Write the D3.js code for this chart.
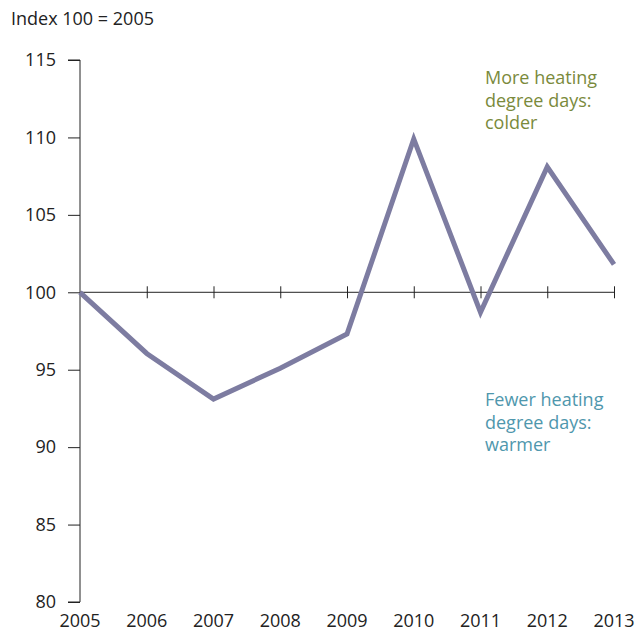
<!DOCTYPE html>
<html>
<head>
<meta charset="utf-8">
<script src="https://cdn.jsdelivr.net/npm/d3@7"></script>
<style>
  body { margin: 0; background: #fff; }
  text { font-family: "Open Sans", "Noto Sans", sans-serif; }
</style>
</head>
<body>
<div id="chart"></div>
<script>
const years = [2005, 2006, 2007, 2008, 2009, 2010, 2011, 2012, 2013];
const index = [100, 96.05, 93.1, 95.1, 97.3, 109.9, 98.7, 108.1, 101.8];
const yTicks = [80, 85, 90, 95, 100, 105, 110, 115];
const noteUp = ["More heating", "degree days:", "colder"];
const noteDown = ["Fewer heating", "degree days:", "warmer"];

const width = 637, height = 631;

const svg = d3.select("#chart").append("svg")
    .attr("width", width)
    .attr("height", height);

const x = d3.scaleLinear().domain([2005, 2013]).range([80, 614]);
const y = d3.scaleLinear().domain([80, 115]).range([602, 60]);

// y axis
const yAxis = svg.append("g")
    .attr("transform", "translate(80,0)")
    .call(d3.axisLeft(y).tickValues(yTicks).tickSize(12).tickPadding(12));
yAxis.select(".domain").attr("stroke", "#222").attr("d", "M-12," + y(115) + "H0V" + y(80) + "H-12");
yAxis.selectAll(".tick line").attr("stroke", "#222");
yAxis.selectAll(".tick text")
    .attr("fill", "#222")
    .style("font-size", "18px");

// x axis along 100
const xAxis = svg.append("g")
    .attr("transform", "translate(0," + y(100) + ")")
    .call(d3.axisBottom(x).tickValues(years.slice(1)).tickSize(0).tickFormat(""));
xAxis.select(".domain").attr("stroke", "#222").attr("d", "M" + x(2005) + ",0H" + x(2013));
xAxis.selectAll(".tick line").attr("stroke", "#222").attr("y1", -6).attr("y2", 6);

// year labels at bottom
svg.append("g").selectAll("text")
  .data(years)
  .join("text")
    .attr("x", d => x(d))
    .attr("y", 627)
    .attr("text-anchor", "middle")
    .attr("fill", "#222")
    .style("font-size", "18px")
    .text(d => d);

// title
svg.append("text")
    .attr("x", 11)
    .attr("y", 25)
    .attr("fill", "#222")
    .style("font-size", "18px")
    .text("Index 100 = 2005");

// line
const line = d3.line()
    .x((d, i) => x(years[i]))
    .y(d => y(d));

svg.append("path")
    .datum(index)
    .attr("fill", "none")
    .attr("stroke", "#7d7ca1")
    .attr("stroke-width", 5)
    .attr("stroke-linejoin", "miter")
    .attr("d", line);

// annotations
svg.append("g").selectAll("text")
  .data(noteUp)
  .join("text")
    .attr("x", 485)
    .attr("y", (d, i) => 84 + i * 22.5)
    .attr("fill", "#7a8a3c")
    .style("font-size", "18px")
    .text(d => d);

svg.append("g").selectAll("text")
  .data(noteDown)
  .join("text")
    .attr("x", 485)
    .attr("y", (d, i) => 406 + i * 22.5)
    .attr("fill", "#4f97ad")
    .style("font-size", "18px")
    .text(d => d);
</script>
</body>
</html>
